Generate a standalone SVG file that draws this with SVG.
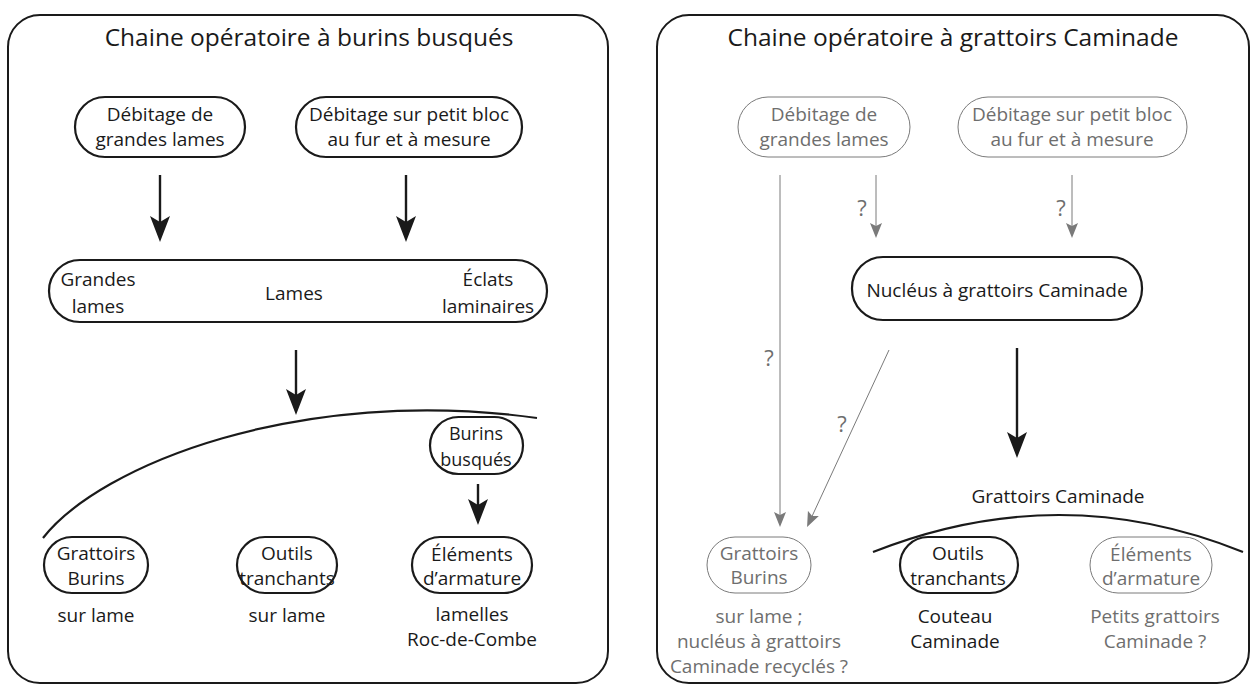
<svg xmlns="http://www.w3.org/2000/svg" width="1255" height="686" viewBox="0 0 1255 686">
<style>
text{font-family:"Open Sans","Noto Sans","Liberation Sans",sans-serif;text-anchor:middle;font-size:19px;fill:#1a1a1a}
.title{font-size:24.5px}
.g{fill:#6e6e6e}
.q{fill:#6e6e6e;font-size:22px}
.panel{fill:none;stroke:#1a1a1a;stroke-width:2}
.pill{fill:#fff;stroke:#1a1a1a;stroke-width:2.2}
.gpill{fill:#fff;stroke:#7a7a7a;stroke-width:1}
.thick{stroke:#1a1a1a;stroke-width:2.4;fill:none}
.thin{stroke:#7a7a7a;stroke-width:1;fill:none}
.arc{stroke:#1a1a1a;stroke-width:2.2;fill:none}
</style>
<defs>
<marker id="ah" markerUnits="userSpaceOnUse" markerWidth="28" markerHeight="22" viewBox="0 -11 28 22" refX="8" refY="0" orient="auto"><path d="M0,-10 L26,0 L0,10 L6,0 Z" fill="#1a1a1a"/></marker>
<marker id="gh" markerUnits="userSpaceOnUse" markerWidth="16" markerHeight="14" viewBox="0 -7 16 14" refX="4" refY="0" orient="auto"><path d="M0,-6 L15,0 L0,6 L3,0 Z" fill="#7a7a7a"/></marker>
</defs>

<g id="panel-left">
<rect class="panel" x="8" y="15" width="600" height="668" rx="32"/>
<text class="title" x="309" y="46">Chaine opératoire à burins busqués</text>
</g>
<g id="panel-right">
<rect class="panel" x="657" y="15" width="592" height="668" rx="32"/>
<text class="title" x="953" y="46">Chaine opératoire à grattoirs Caminade</text>
</g>

<g id="L-debitage-grandes">
<rect class="pill" x="75" y="97" width="170" height="60" rx="30"/>
<text x="160" y="121">Débitage de</text>
<text x="160" y="146">grandes lames</text>
</g>
<g id="L-debitage-petit">
<rect class="pill" x="296" y="97" width="226" height="60" rx="30"/>
<text x="409" y="121">Débitage sur petit bloc</text>
<text x="409" y="146">au fur et à mesure</text>
</g>
<g id="L-supports">
<rect class="pill" x="49" y="260" width="498" height="62" rx="31"/>
<text x="98" y="286">Grandes</text>
<text x="98" y="313">lames</text>
<text x="294" y="300">Lames</text>
<text x="488" y="286">Éclats</text>
<text x="488" y="313">laminaires</text>
</g>
<g id="L-burins-busques">
<rect class="pill" x="430" y="417" width="93" height="57" rx="28.5"/>
<text x="476" y="440" style="font-size:18px">Burins</text>
<text x="476" y="466" style="font-size:18px">busqués</text>
</g>
<g id="L-grattoirs">
<rect class="pill" x="44" y="537" width="104" height="56" rx="28"/>
<text x="96" y="560">Grattoirs</text>
<text x="96" y="585">Burins</text>
<text x="96" y="622">sur lame</text>
</g>
<g id="L-outils">
<rect class="pill" x="237" y="537" width="100" height="56" rx="28"/>
<text x="287" y="560">Outils</text>
<text x="287" y="585">tranchants</text>
<text x="287" y="622">sur lame</text>
</g>
<g id="L-elements">
<rect class="pill" x="412" y="537" width="120" height="56" rx="28"/>
<text x="472" y="561">Éléments</text>
<text x="472" y="585">d’armature</text>
<text x="472" y="621">lamelles</text>
<text x="472" y="646">Roc-de-Combe</text>
</g>

<g id="R-debitage-grandes">
<rect class="gpill" x="738" y="97" width="172" height="60" rx="30"/>
<text class="g" x="824" y="121">Débitage de</text>
<text class="g" x="824" y="146">grandes lames</text>
</g>
<g id="R-debitage-petit">
<rect class="gpill" x="958" y="97" width="229" height="60" rx="30"/>
<text class="g" x="1072" y="121">Débitage sur petit bloc</text>
<text class="g" x="1072" y="146">au fur et à mesure</text>
</g>
<g id="R-nucleus">
<rect class="pill" x="852" y="257" width="290" height="63" rx="31"/>
<text x="997" y="297">Nucléus à grattoirs Caminade</text>
</g>
<g id="R-grattoirs-caminade">
<text x="1058" y="503">Grattoirs Caminade</text>
</g>
<g id="R-grattoirs">
<rect class="gpill" x="707" y="537" width="104" height="56" rx="28"/>
<text class="g" x="759" y="560">Grattoirs</text>
<text class="g" x="759" y="584">Burins</text>
<text class="g" x="759" y="623">sur lame ;</text>
<text class="g" x="759" y="648">nucléus à grattoirs</text>
<text class="g" x="759" y="673">Caminade recyclés ?</text>
</g>
<g id="R-outils">
<rect class="pill" x="900" y="537" width="118" height="56" rx="28"/>
<text x="958" y="560">Outils</text>
<text x="958" y="585">tranchants</text>
<text x="955" y="623">Couteau</text>
<text x="955" y="648">Caminade</text>
</g>
<g id="R-elements">
<rect class="gpill" x="1090" y="537" width="122" height="56" rx="28"/>
<text class="g" x="1151" y="561">Éléments</text>
<text class="g" x="1151" y="585">d’armature</text>
<text class="g" x="1155" y="623">Petits grattoirs</text>
<text class="g" x="1155" y="648">Caminade ?</text>
</g>

<g id="connectors">
<line class="thick" x1="160" y1="175" x2="160" y2="224" marker-end="url(#ah)"/>
<line class="thick" x1="406" y1="175" x2="406" y2="224" marker-end="url(#ah)"/>
<line class="thick" x1="296" y1="350" x2="296" y2="397" marker-end="url(#ah)"/>
<path class="arc" d="M43,538 C100,465 300,385 537,418"/>
<line class="thick" x1="478" y1="484" x2="478" y2="507" marker-end="url(#ah)"/>
<line class="thin" x1="780" y1="175" x2="780" y2="516" marker-end="url(#gh)"/>
<line class="thin" x1="876" y1="175" x2="876" y2="227" marker-end="url(#gh)"/>
<line class="thin" x1="1072" y1="175" x2="1072" y2="227" marker-end="url(#gh)"/>
<line class="thin" x1="889" y1="350" x2="811.7" y2="517" marker-end="url(#gh)"/>
<line class="thick" x1="1017" y1="348" x2="1017" y2="440" marker-end="url(#ah)"/>
<path class="arc" d="M873,552 Q1060,478 1243,552"/>
<text class="q" x="862" y="216">?</text>
<text class="q" x="1061" y="216">?</text>
<text class="q" x="769" y="366">?</text>
<text class="q" x="842" y="432">?</text>
</g>
</svg>
